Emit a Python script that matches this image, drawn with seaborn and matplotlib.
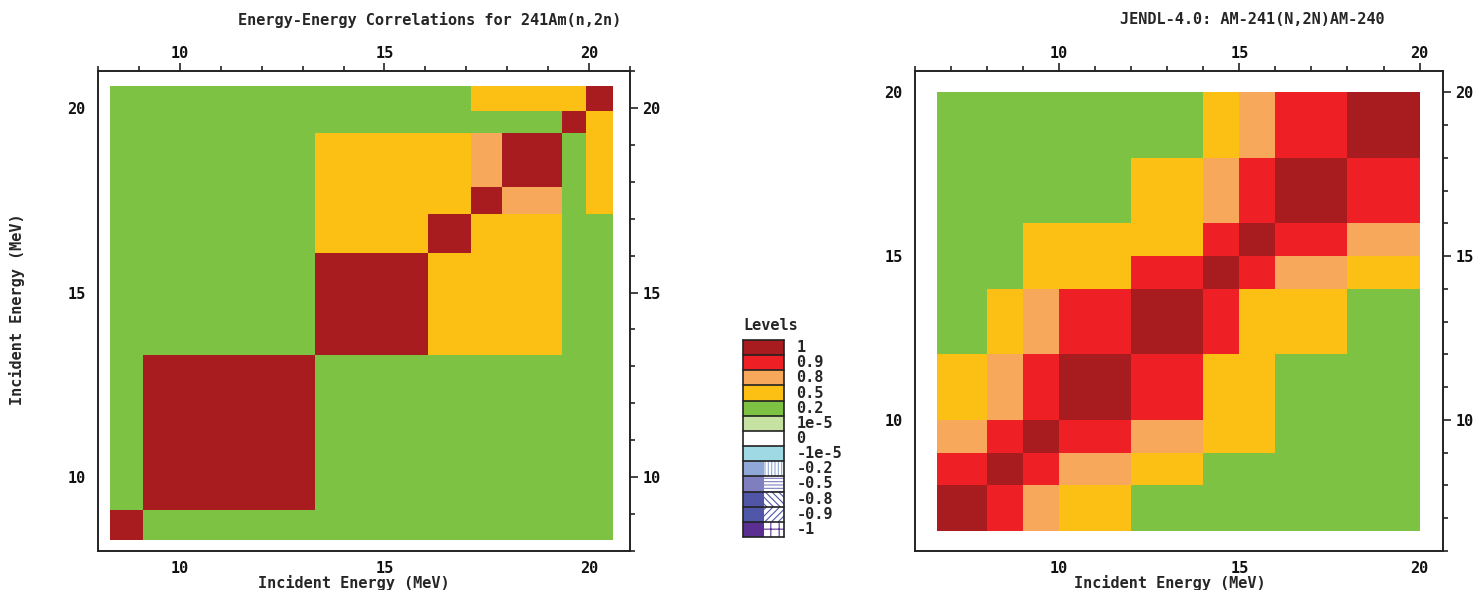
import numpy as np
import matplotlib
matplotlib.use("Agg")
import matplotlib.pyplot as plt
from matplotlib.colors import ListedColormap, BoundaryNorm
from matplotlib.patches import Rectangle
from matplotlib.ticker import MultipleLocator
import seaborn as sns

# Niveles de la leyenda (de arriba a abajo)
level_labels = ["1", "0.9", "0.8", "0.5", "0.2", "1e-5", "0", "-1e-5",
                "-0.2", "-0.5", "-0.8", "-0.9", "-1"]
level_colors = ["#a81c20", "#ee1f25", "#f8a85a", "#fcbf13", "#7dc243", "#c6e2a3",
                "#ffffff", "#9fd9e4", "#8fa8d8", "#7f7fbf", "#5155a6", "#5057a8", "#5b2f91"]
level_hatches = [None] * 8 + ["|||||", "-----", "\\\\\\\\\\", "/////", "++"]
level_bounds = [-1.0001, -0.9, -0.8, -0.5, -0.2, -1e-5, -1e-12, 1e-12,
                1e-5, 0.2, 0.5, 0.8, 0.9, 1.0001]

# Panel izquierdo: 241Am(n,2n), bordes de grupo en MeV
am_edges = [8.3, 9.1, 13.3, 16.07, 17.12, 17.87, 19.33, 19.92, 20.59]
# filas = energia en eje y (de abajo a arriba), columnas = eje x
am_corr = [
    [1.0, 0.1, 0.1, 0.1, 0.1, 0.1, 0.1, 0.1],
    [0.1, 1.0, 0.1, 0.1, 0.1, 0.1, 0.1, 0.1],
    [0.1, 0.1, 1.0, 0.35, 0.35, 0.35, 0.1, 0.1],
    [0.1, 0.1, 0.35, 1.0, 0.35, 0.35, 0.1, 0.1],
    [0.1, 0.1, 0.35, 0.35, 1.0, 0.65, 0.1, 0.35],
    [0.1, 0.1, 0.35, 0.35, 0.65, 1.0, 0.1, 0.35],
    [0.1, 0.1, 0.1, 0.1, 0.1, 0.1, 1.0, 0.35],
    [0.1, 0.1, 0.1, 0.1, 0.35, 0.35, 0.35, 1.0],
]

# Panel derecho: JENDL-4.0
jendl_edges = [6.62, 8, 9, 10, 12, 14, 15, 16, 18, 20]
jendl_corr = [
    [1.0, 0.85, 0.65, 0.35, 0.1, 0.1, 0.1, 0.1, 0.1],
    [0.85, 1.0, 0.85, 0.65, 0.35, 0.1, 0.1, 0.1, 0.1],
    [0.65, 0.85, 1.0, 0.85, 0.65, 0.35, 0.35, 0.1, 0.1],
    [0.35, 0.65, 0.85, 1.0, 0.85, 0.35, 0.35, 0.1, 0.1],
    [0.1, 0.35, 0.65, 0.85, 1.0, 0.85, 0.35, 0.35, 0.1],
    [0.1, 0.1, 0.35, 0.35, 0.85, 1.0, 0.85, 0.65, 0.35],
    [0.1, 0.1, 0.35, 0.35, 0.35, 0.85, 1.0, 0.85, 0.65],
    [0.1, 0.1, 0.1, 0.1, 0.35, 0.65, 0.85, 1.0, 0.85],
    [0.1, 0.1, 0.1, 0.1, 0.1, 0.35, 0.65, 0.85, 1.0],
]

W, H = 1475, 590
FS = 11

sns.set_style("white")
plt.rcParams['font.family'] = ['DejaVu Sans Mono']
plt.rcParams['font.weight'] = 'bold'
plt.rcParams['hatch.linewidth'] = 0.8

cmap = ListedColormap(level_colors[::-1])
norm = BoundaryNorm(level_bounds, cmap.N)


def dibujar_panel(ax, edges, corr, lims):
    ax.pcolormesh(edges, edges, np.array(corr), cmap=cmap, norm=norm)
    ax.set_xlim(lims)
    ax.set_ylim(lims)
    for eje in (ax.xaxis, ax.yaxis):
        eje.set_major_locator(MultipleLocator(5))
        eje.set_minor_locator(MultipleLocator(1))
    ax.tick_params(which='both', direction='out', top=True, right=True,
                   labeltop=True, labelright=True, colors='#111111',
                   labelsize=FS, width=1.1)
    ax.tick_params(which='major', length=6)
    ax.tick_params(which='minor', length=3.5)
    ax.tick_params(axis='x', which='major', pad=1.5)
    ax.tick_params(axis='y', which='major', pad=3)
    for lab in ax.get_xticklabels() + ax.get_yticklabels():
        lab.set_fontweight('bold')
    for s in ax.spines.values():
        s.set_color('#222222')
        s.set_linewidth(1.4)


fig = plt.figure(figsize=(W / 100, H / 100), dpi=100)

ax1 = fig.add_axes([98 / W, 1 - 551 / H, 532 / W, 480 / H])
dibujar_panel(ax1, am_edges, am_corr, (8, 21))

ax2 = fig.add_axes([915 / W, 1 - 551 / H, 528 / W, 480 / H])
dibujar_panel(ax2, jendl_edges, jendl_corr, (6, 20.65))

fig.text(430 / W, 1 - 20 / H, "Energy-Energy Correlations for 241Am(n,2n)",
         ha='center', va='center', fontsize=FS, fontweight='bold')
fig.text(1252 / W, 1 - 20 / H, "JENDL-4.0: AM-241(N,2N)AM-240",
         ha='center', va='center', fontsize=FS, fontweight='bold')
fig.text(354 / W, 1 - 583 / H, "Incident Energy (MeV)",
         ha='center', va='center', fontsize=FS, fontweight='bold')
fig.text(1170 / W, 1 - 583 / H, "Incident Energy (MeV)",
         ha='center', va='center', fontsize=FS, fontweight='bold')
fig.text(17 / W, 1 - 309 / H, "Incident Energy (MeV)", rotation=90,
         ha='center', va='center', fontsize=FS, fontweight='bold')

# Leyenda de niveles
lax = fig.add_axes([743 / W, 1 - 537 / H, 41 / W, 197 / H])
n = len(level_labels)
sns.heatmap(np.arange(n).reshape(-1, 1), cmap=ListedColormap(level_colors),
            vmin=-0.5, vmax=n - 0.5, cbar=False, ax=lax,
            xticklabels=False, yticklabels=False)
for i, h in enumerate(level_hatches):
    if h:
        lax.add_patch(Rectangle((0.5, i), 0.5, 1, facecolor='white',
                                edgecolor=level_colors[i], hatch=h, lw=0))
for y in range(n + 1):
    lax.axhline(y, color='#222222', lw=1.2, clip_on=False)
for x in (0, 1):
    lax.axvline(x, color='#222222', lw=1.2, clip_on=False)
for i, lab in enumerate(level_labels):
    lax.text(1.3, i + 0.5, lab, ha='left', va='center', fontsize=FS,
             fontweight='bold', clip_on=False)
fig.text(743 / W, 1 - 326 / H, "Levels", ha='left', va='center',
         fontsize=FS, fontweight='bold')

fig.savefig("out.png", dpi=100)
